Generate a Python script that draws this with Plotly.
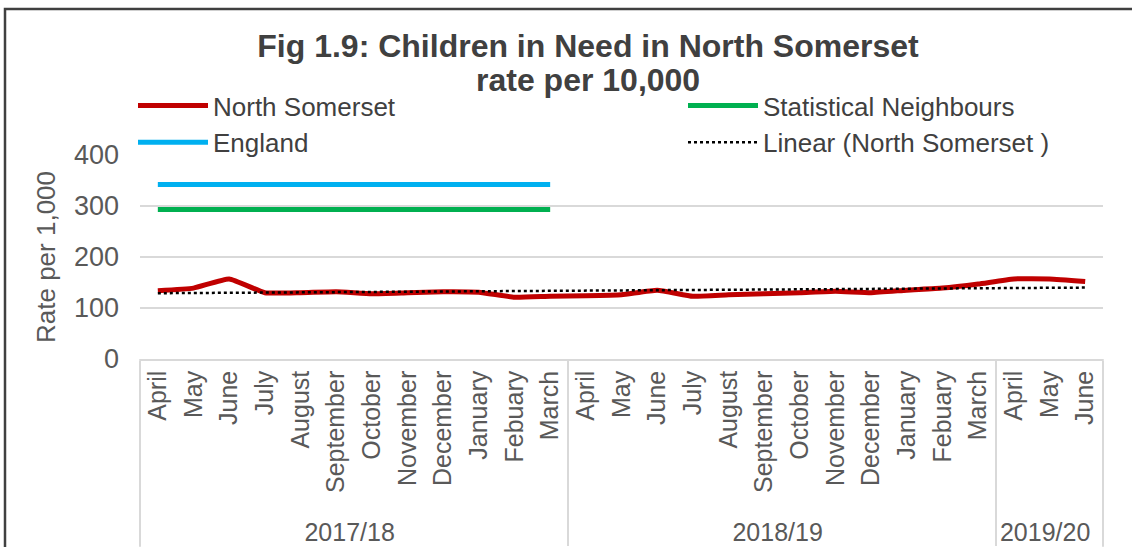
import plotly.graph_objects as go

years = ["2017/18"] * 12 + ["2018/19"] * 12 + ["2019/20"] * 3
months_fy = ["April", "May", "June", "July", "August", "September", "October",
             "November", "December", "January", "Febuary", "March"]
months = months_fy + months_fy + months_fy[:3]

north_somerset = [134, 139, 157, 130, 130, 132, 128, 130, 132, 131, 121, 123,
                  124, 126, 135, 123, 126, 128, 130, 133, 130, 135, 139, 147,
                  157, 157, 152]
statistical_neighbours = [293] * 12
england = [342] * 12
trend_ends = [129, 140]

title_line1 = "Fig 1.9: Children in Need in North Somerset"
title_line2 = "rate per 10,000"

x_all = [years, months]
x_first = [years[:12], months[:12]]
x_trend = [[years[0], years[-1]], [months[0], months[-1]]]

fig = go.Figure()
fig.add_trace(go.Scatter(x=x_all, y=north_somerset, mode="lines", name="North Somerset",
                         line=dict(color="#C00000", width=5, shape="spline", smoothing=0.4)))
fig.add_trace(go.Scatter(x=x_first, y=statistical_neighbours, mode="lines", name="Statistical Neighbours",
                         line=dict(color="#00B050", width=5)))
fig.add_trace(go.Scatter(x=x_first, y=england, mode="lines", name="England",
                         line=dict(color="#00B0F0", width=5)))
fig.add_trace(go.Scatter(x=x_trend, y=trend_ends, mode="lines", name="Linear (North Somerset )",
                         line=dict(color="#000000", width=2.5, dash="dot")))

font_family = "Liberation Sans, Arial, sans-serif"
fig.update_layout(
    width=1132, height=547,
    margin=dict(l=140, r=29, t=155, b=188, autoexpand=False),
    paper_bgcolor="white", plot_bgcolor="white",
    font=dict(family=font_family, color="#595959"),
    title=dict(text="<b>" + title_line1 + "</b>",
               x=588 / 1132, xanchor="center", y=1 - 46 / 547, yanchor="middle",
               font=dict(size=32, color="#404040")),
    showlegend=True,
    legend=dict(orientation="h", x=-7 / 963, xanchor="left", y=(359 - 82) / 204, yanchor="top",
                entrywidth=465, entrywidthmode="pixels", itemwidth=70,
                font=dict(size=26, color="#404040"), traceorder="normal",
                bgcolor="rgba(0,0,0,0)"),
    xaxis=dict(type="multicategory", tickangle=-90, tickfont=dict(size=25, color="#595959"),
               range=[-0.5, 26.5],
               showgrid=False, showline=True, linecolor="#D9D9D9", linewidth=1.5,
               showdividers=True, dividercolor="#D9D9D9", dividerwidth=1.5,
               ticks="", fixedrange=True),
    yaxis=dict(range=[0, 400], dtick=100, showgrid=True, gridcolor="#D9D9D9", gridwidth=1.5,
               zeroline=False, showline=False, tickfont=dict(size=27, color="#595959"),
               ticklabelstandoff=20,
               title=dict(text="Rate per 1,000", font=dict(size=26, color="#595959"), standoff=10),
               ticks="", fixedrange=True),
)
fig.add_annotation(text="<b>" + title_line2 + "</b>", xref="paper", yref="paper",
                   x=(588 - 140) / 963, y=(359 - 80) / 204, xanchor="center", yanchor="middle",
                   showarrow=False, font=dict(size=32, color="#404040"))
fig.add_shape(type="rect", xref="paper", yref="paper", x0=-135 / 963, x1=1.2, y0=-1, y1=(359 - 9) / 204,
              line=dict(color="#404040", width=2.5), fillcolor="rgba(0,0,0,0)", layer="above")
for xe in (0, 1):
    fig.add_shape(type="line", xref="paper", yref="paper", x0=xe, x1=xe, y0=-188 / 204, y1=0,
                  line=dict(color="#D9D9D9", width=1.5))

fig.write_html("out.html")
